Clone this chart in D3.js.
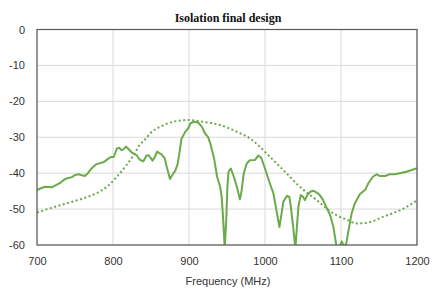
<!DOCTYPE html>
<meta charset="utf-8">

<!-- Cargar d3.js. -->
<script src="https://d3js.org/d3.v7.min.js"></script>

<style>
  body { margin: 0; background: #fff; }
</style>

<!-- División donde estara el grafico. -->
<div id="my_dataviz"></div>

<script>
var freqMedida = [700, 705, 710, 720, 730, 735, 740, 746, 750, 755, 759, 763, 767, 772, 778, 783, 788, 793, 797, 801,
    805, 808, 811, 814, 817, 821, 825, 831, 835, 840, 844, 847, 852, 855, 858, 864, 868, 871, 875, 878,
    882, 885, 887, 890, 895, 899, 902, 906, 912, 917, 921, 925, 928, 933, 937, 941, 943, 945, 947, 949,
    950.5, 952, 955, 959, 963, 967, 969, 972, 976, 980, 987, 991, 995, 1000, 1006, 1011, 1015, 1019, 1022, 1024,
    1029, 1032, 1034, 1037, 1040, 1042, 1044, 1047, 1050, 1052.5, 1056, 1060, 1064, 1068, 1072, 1076, 1081, 1086, 1090, 1094,
    1098, 1101, 1104, 1107, 1110, 1114, 1118, 1125, 1132, 1136, 1142, 1147, 1151, 1158, 1164, 1171, 1180, 1186, 1193, 1200];
var dbMedida = [-44.7, -44.2, -43.8, -43.9, -42.8, -41.9, -41.4, -41.1, -40.5, -40.3, -40.6, -40.8, -40.0, -38.6, -37.5, -37.2, -36.9, -36.1, -35.5, -35.5,
    -33.2, -32.9, -33.6, -33.3, -32.6, -33.4, -34.3, -35.0, -36.2, -36.7, -35.1, -35.0, -36.5, -35.5, -34.0, -34.8, -35.8, -38.5, -41.6, -40.5,
    -39.3, -37.5, -35.0, -30.5, -28.5, -27.5, -26.1, -25.7, -25.9, -27.1, -28.9, -29.9, -31.7, -35.9, -41.0, -43.8, -46.6, -53, -61, -53,
    -43.8, -39.6, -38.7, -41, -43.8, -47.3, -45.2, -40.1, -37.3, -36.4, -36.3, -35.1, -35.7, -38.7, -42.6, -45.6, -50.3, -55, -51, -48,
    -46.3, -46.6, -49.3, -54.9, -61, -54.9, -49.3, -46.1, -46.6, -47.5, -46.0, -45.1, -44.9, -45.4, -46.1, -47.3, -49.6, -51.8, -55, -60.3,
    -60.5, -59, -60.5, -59.5, -55.8, -51.2, -48.5, -45.8, -44.6, -42.8, -41.0, -40.3, -40.8, -40.8, -40.3, -40.3, -39.9, -39.6, -39.1, -38.6];

// Curva simulada (linea punteada).
var freqSimulada = [700, 717, 739, 761, 778, 792, 805, 818, 827, 835, 844, 849, 862, 879, 899, 919, 941, 963, 980, 991,
    1002, 1024, 1046, 1068, 1090, 1108, 1121, 1134, 1156, 1178, 1200];
var dbSimulada = [-51, -49.8, -48.4, -47, -45.6, -43.8, -41, -37.7, -35, -32.2, -30.2, -28.9, -27.1, -25.7, -25.2, -25.7, -26.6, -28.5, -30.3, -32.2,
    -34.5, -39.1, -43.8, -47.5, -51.2, -53, -54, -53.8, -52.1, -50.3, -47.6];

// Marcas de los ejes.
var xTicks = [700, 800, 900, 1000, 1100, 1200];
var yTicks = [0, -10, -20, -30, -40, -50, -60];

// Dimensiones y margenes.
var margin = {top: 29.5, right: 23, bottom: 47, left: 37},
    width = 440 - margin.left - margin.right,
    height = 292 - margin.top - margin.bottom;

var svg = d3.select("#my_dataviz")
            .append("svg")
            .attr("width", 440)
            .attr("height", 292)
            .append("g")
            .attr("transform", "translate(" + margin.left + "," + margin.top + ")");

var x = d3.scaleLinear().domain([700, 1200]).range([0, width]);
var y = d3.scaleLinear().domain([-60, 0]).range([height, 0]);

// Rejilla.
svg.append("g")
   .selectAll("line")
   .data(xTicks)
   .enter()
   .append("line")
   .attr("x1", function(d) { return x(d) })
   .attr("x2", function(d) { return x(d) })
   .attr("y1", 0)
   .attr("y2", height)
   .attr("stroke", "#d9d9d9")
   .attr("stroke-width", 1);

svg.append("g")
   .selectAll("line")
   .data(yTicks)
   .enter()
   .append("line")
   .attr("x1", 0)
   .attr("x2", width)
   .attr("y1", function(d) { return y(d) })
   .attr("y2", function(d) { return y(d) })
   .attr("stroke", "#d9d9d9")
   .attr("stroke-width", 1);

// Ejes con etiquetas (guion normal como signo menos).
var fmt = function(d) { return String(d) };

var xAxis = svg.append("g")
   .attr("transform", "translate(0," + height + ")")
   .call(d3.axisBottom(x).tickValues(xTicks).tickFormat(fmt).tickSize(0).tickPadding(12));

var yAxis = svg.append("g")
   .call(d3.axisLeft(y).tickValues(yTicks).tickFormat(fmt).tickSize(0).tickPadding(12));

[xAxis, yAxis].forEach(function(a) {
    a.select(".domain").remove();
    a.selectAll("text")
     .attr("font-family", "Liberation Sans, Arial, sans-serif")
     .attr("font-size", "11px")
     .attr("fill", "#333");
});

// Recorte del area del grafico.
svg.append("clipPath")
   .attr("id", "clip")
   .append("rect")
   .attr("width", width)
   .attr("height", height);

var linea = d3.line()
    .x(function(d) { return x(d[0]) })
    .y(function(d) { return y(d[1]) });

// Linea punteada.
svg.append("path")
   .datum(d3.zip(freqSimulada, dbSimulada))
   .attr("clip-path", "url(#clip)")
   .attr("fill", "none")
   .attr("stroke", "#6aaa4a")
   .attr("stroke-width", 2)
   .attr("stroke-dasharray", "2,2.5")
   .attr("d", linea.curve(d3.curveMonotoneX));

// Linea continua.
svg.append("path")
   .datum(d3.zip(freqMedida, dbMedida))
   .attr("clip-path", "url(#clip)")
   .attr("fill", "none")
   .attr("stroke", "#6aaa4a")
   .attr("stroke-width", 2)
   .attr("stroke-linejoin", "round")
   .attr("d", linea.curve(d3.curveLinear));

// Marco.
svg.append("rect")
   .attr("width", width)
   .attr("height", height)
   .attr("fill", "none")
   .attr("stroke", "#5a5a5a")
   .attr("stroke-width", 1.2);

// Titulo.
svg.append("text")
   .attr("x", width / 2 + 1)
   .attr("y", -8)
   .attr("text-anchor", "middle")
   .attr("font-family", "Liberation Serif, Times New Roman, serif")
   .attr("font-weight", "bold")
   .attr("font-size", "12px")
   .attr("fill", "#111")
   .text("Isolation final design");

// Titulo del eje x.
svg.append("text")
   .attr("x", width / 2 + 1)
   .attr("y", height + 40)
   .attr("text-anchor", "middle")
   .attr("font-family", "Liberation Sans, Arial, sans-serif")
   .attr("font-size", "11px")
   .attr("fill", "#333")
   .text("Frequency (MHz)");
</script>
